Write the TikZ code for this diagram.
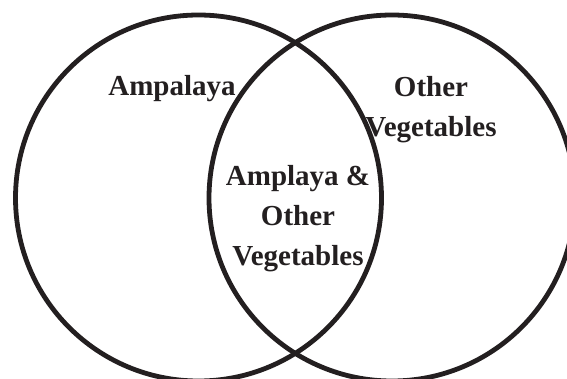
\documentclass[tikz,border=0pt]{standalone}
\usepackage{fontspec}
\setmainfont{Liberation Serif}
\usetikzlibrary{positioning}
\definecolor{ink}{HTML}{231F20}
\begin{document}
\begin{tikzpicture}[x=1pt,y=1pt,
  set/.style={circle, draw=ink, line width=4.8pt, minimum size=366pt, inner sep=0pt},
  lbl/.style={text=ink, font=\bfseries\fontsize{29}{40}\selectfont, align=center, inner sep=0pt}]
\useasboundingbox (0,0) rectangle (567,378);
% the two sets
\node[set] (amp) at (198.5,180) {};
\node[set] (veg) at (392,180) {};
% labels (base = last line)
\node[lbl, anchor=base] (amplbl) at (172,282) {Ampalaya};
\node[lbl, anchor=base] (veglbl) at (431,241) {Other\\Vegetables};
\node[lbl, anchor=base] (bothlbl) at (298,113) {Amplaya \&\\Other\\Vegetables};
\end{tikzpicture}
\end{document}
